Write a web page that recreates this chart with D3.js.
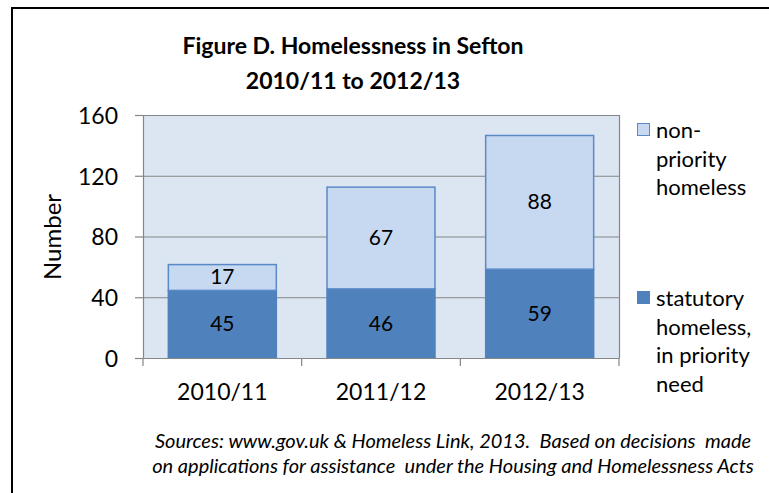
<!DOCTYPE html>
<html><head><meta charset="utf-8">
<script src="https://cdn.jsdelivr.net/npm/d3@7"></script>
<style>body{margin:0;background:#fff;} svg{display:block;}</style>
</head><body>
<script>
const categories = ["2010/11", "2011/12", "2012/13"];
const statutory = [45, 46, 59];
const nonPriority = [17, 67, 88];
const yTicks = [0, 40, 80, 120, 160];
const seriesNames = [["non-", "priority", "homeless"], ["statutory", "homeless,", "in priority", "need"]];
const titleLines = ["Figure D. Homelessness in Sefton", "2010/11 to 2012/13"];
const sourceLines = ["Sources: www.gov.uk & Homeless Link, 2013.  Based on decisions  made", "on applications for assistance  under the Housing and Homelessness Acts"];

const W = 769, H = 493;
const font = "Lato, 'Open Sans', sans-serif";
const svg = d3.select("body").append("svg").attr("width", W).attr("height", H);

// outer frame
svg.append("path").attr("d", `M12,${H+5} L12,8 L${W+5},8`).attr("fill","none").attr("stroke","#000").attr("stroke-width",2);

const plot = {l:143, r:619, t:115, b:358};
const x = d3.scaleBand().domain(categories).range([plot.l, plot.r]).paddingInner(0.31).paddingOuter(0.155);
const xb = d3.scaleBand().domain(categories).range([plot.l, plot.r]);
const y = d3.scaleLinear().domain([0,160]).range([plot.b, plot.t]);

svg.append("rect").attr("x",plot.l).attr("y",plot.t).attr("width",plot.r-plot.l).attr("height",plot.b-plot.t).attr("fill","#DCE6F2");

// gridlines
svg.append("g").selectAll("line").data(yTicks.filter(d=>d>0)).join("line")
  .attr("x1",plot.l).attr("x2",plot.r).attr("y1",d=>y(d)+0.5).attr("y2",d=>y(d)+0.5)
  .attr("stroke","#868686").attr("stroke-width",1.2);
// right border
svg.append("line").attr("x1",plot.r+0.5).attr("x2",plot.r+0.5).attr("y1",plot.t).attr("y2",plot.b).attr("stroke","#868686").attr("stroke-width",1.2);

// bars
const g = svg.append("g");
categories.forEach((c,i)=>{
  g.append("rect").attr("x",x(c)).attr("width",x.bandwidth())
    .attr("y",y(statutory[i])).attr("height",y(0)-y(statutory[i])).attr("fill","#4F81BD");
  g.append("rect").attr("x",x(c)+0.75).attr("width",x.bandwidth()-1.5)
    .attr("y",y(statutory[i]+nonPriority[i])+0.75).attr("height",y(statutory[i])-y(statutory[i]+nonPriority[i]))
    .attr("fill","#C6D9F1").attr("stroke","#5A8AC6").attr("stroke-width",1.5);
  g.append("text").attr("x",x(c)+x.bandwidth()/2).attr("y",(y(0)+y(statutory[i]))/2).attr("dy","0.36em")
    .attr("text-anchor","middle").attr("font-family",font).attr("font-size",21).attr("fill","#000").text(statutory[i]);
  g.append("text").attr("x",x(c)+x.bandwidth()/2).attr("y",(y(statutory[i])+y(statutory[i]+nonPriority[i]))/2).attr("dy","0.36em")
    .attr("text-anchor","middle").attr("font-family",font).attr("font-size",21).attr("fill","#000").text(nonPriority[i]);
});

// y axis
const ya = svg.append("g").attr("transform",`translate(${plot.l},0)`)
  .call(d3.axisLeft(y).tickValues(yTicks).tickSize(8).tickPadding(17).tickSizeOuter(0));
ya.select(".domain").attr("stroke","#868686").attr("stroke-width",1.2);
ya.selectAll(".tick line").attr("stroke","#868686").attr("stroke-width",1.2);
ya.selectAll(".tick text").attr("font-family",font).attr("font-size",23).attr("fill","#000").attr("dy","0.36em");

// x axis
const xa = svg.append("g").attr("transform",`translate(0,${plot.b})`)
  .call(d3.axisBottom(xb).tickSize(0).tickPadding(26).tickSizeOuter(0));
xa.select(".domain").attr("stroke","#868686").attr("stroke-width",1.2);
xa.selectAll(".tick text").attr("font-family",font).attr("font-size",23).attr("fill","#000");
const bounds = [plot.l, ...categories.map(c=>xb(c)+xb.bandwidth())];
xa.selectAll(".bnd").data(bounds).join("line").attr("class","bnd")
  .attr("x1",d=>d).attr("x2",d=>d).attr("y1",0).attr("y2",8).attr("stroke","#868686").attr("stroke-width",1.2);

// y label
svg.append("text").attr("transform","translate(61,237) rotate(-90)").attr("text-anchor","middle")
  .attr("font-family",font).attr("font-size",24).attr("fill","#000").text("Number");

// title
svg.append("g").selectAll("text").data(titleLines).join("text")
  .attr("x",353).attr("y",(d,i)=>54+i*35).attr("text-anchor","middle")
  .attr("font-family",font).attr("font-size",23).attr("font-weight","bold").attr("fill","#000").text(d=>d);

// legend
const legColors = [["#C6D9F1","#5A8AC6"],["#4F81BD","#4F81BD"]];
const legY = [130, 298];
seriesNames.forEach((lines,k)=>{
  svg.append("rect").attr("x",637.5).attr("y",legY[k]-6.5).attr("width",12).attr("height",12)
    .attr("fill",legColors[k][0]).attr("stroke",legColors[k][1]).attr("stroke-width",1);
  svg.append("g").selectAll("text").data(lines).join("text")
    .attr("x",656).attr("y",(d,i)=>legY[k]+i*28.7).attr("dy","0.36em")
    .attr("font-family",font).attr("font-size",22).attr("fill","#000").text(d=>d);
});

// source
svg.append("g").selectAll("text").data(sourceLines).join("text")
  .attr("x",453).attr("y",(d,i)=>441+i*25).attr("dy","0.36em").attr("text-anchor","middle")
  .attr("font-family",font).attr("font-size",20).attr("font-style","italic").attr("fill","#000")
  .style("white-space","pre").text(d=>d);
</script>
</body></html>
